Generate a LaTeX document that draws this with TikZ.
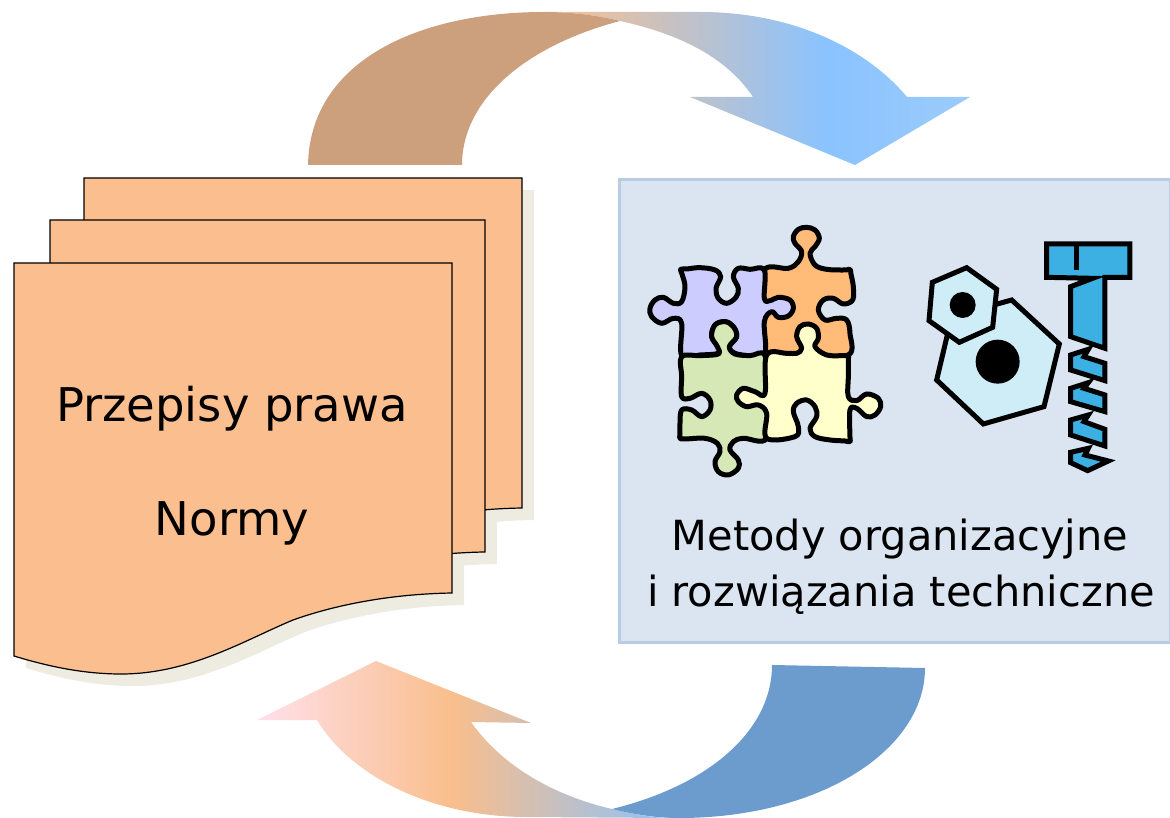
\documentclass[tikz,border=0pt]{standalone}
\usepackage{fontspec}
\setmainfont{DejaVu Sans}
\definecolor{sheetfill}{HTML}{FBBE8E}
\definecolor{sheetshadow}{HTML}{EEECE1}
\definecolor{boxfill}{HTML}{DBE5F1}
\definecolor{boxline}{HTML}{B8CCE4}
\definecolor{brownband}{HTML}{CCA07C}
\definecolor{blueband}{HTML}{6C9BCD}
\definecolor{lilac}{HTML}{CCCCFF}
\definecolor{puzzleorange}{HTML}{FFBB77}
\definecolor{puzzlegreen}{HTML}{D6E8B6}
\definecolor{puzzleyellow}{HTML}{FFFFCC}
\definecolor{nutfill}{HTML}{CFEDF7}
\definecolor{screwfill}{HTML}{3DB0E3}
\definecolor{ora}{HTML}{F9C090}
\definecolor{ora2}{HTML}{F9BE8C}
\definecolor{sky}{HTML}{8AC3FF}
\definecolor{sky2}{HTML}{9CCBFA}
\definecolor{sky3}{HTML}{8FC2F8}
\definecolor{blush}{HTML}{FFE0EA}
\pgfdeclarehorizontalshading{uppershade}{100bp}{color(0bp)=(ora); color(25bp)=(ora); color(58bp)=(sky); color(75bp)=(sky2); color(100bp)=(sky2)}
\pgfdeclarehorizontalshading{lowershade}{100bp}{color(0bp)=(blush); color(25bp)=(blush); color(48.7bp)=(ora2); color(75bp)=(sky3); color(100bp)=(sky3)}
\newcommand{\pageoutline}{(0,0) -- (438,0) -- (438,330)
   .. controls (376,331) and (321,342) .. (279,357)
   .. controls (231,377) and (176,411) .. (107,411)
   .. controls (71,411) and (36,404) .. (0,393) -- cycle}
\tikzset{
    sheet/.style={
           draw=black,
           line width=1.2pt,
           fill=sheetfill,
           },
    piece/.style={
           draw=black,
           line width=5pt,
           line join=round,
           },
    metal/.style={
           draw=black,
           line width=5pt,
           line join=miter,
           },
    zoomed/.style={
           x=0.3333pt,
           y=-0.3333pt,
           },
    bigtext/.style={
           anchor=base,
           inner sep=0pt,
           font=\fontsize{46.5}{50}\selectfont,
           },
    boxtext/.style={
           anchor=base,
           inner sep=0pt,
           font=\fontsize{41.5}{44}\selectfont,
           },
    pics/page/.style={
           code={\draw[sheet] \pageoutline;}
           },
    pics/pageshadow/.style={
           code={\fill[sheetshadow] \pageoutline;}
           },
}
\begin{document}
\begin{tikzpicture}
[
x=1pt,y=-1pt
]
 \useasboundingbox (0,0) rectangle (1170,818);

 % upper arrow
 \shade[shading=uppershade] (544,12) -- (700,12)
   .. controls (795,12) and (868,50) .. (907,97) -- (970,97) -- (855,165)
   -- (690,97) -- (753,97) .. controls (725,55) and (675,33) .. (620,21)
   .. controls (597,15) and (570,12) .. (544,12) -- cycle;
 \fill[brownband] (308,165) .. controls (310,60) and (420,12) .. (544,12)
   .. controls (570,12) and (597,15) .. (620,21)
   .. controls (525,46) and (462,100) .. (462,165) -- cycle;

 % lower arrow
 \shade[shading=lowershade] (317,720) -- (257,720) -- (376,661) -- (531,723)
   -- (471,722) .. controls (505,770) and (560,797) .. (612,809)
   .. controls (632,814) and (655,818) .. (670,818) -- (527,817)
   .. controls (430,817) and (350,775) .. (317,720) -- cycle;
 \fill[blueband] (772,665) -- (925,668)
   .. controls (925,750) and (820,818) .. (679,818)
   .. controls (655,818) and (632,814) .. (612,809)
   .. controls (710,785) and (772,730) .. (772,665) -- cycle;

 % pages, shadows first
 \pic at (96,190) {pageshadow};
 \pic[xscale=.993,yscale=1.006] at (62,232) {pageshadow};
 \pic at (26,275) {pageshadow};
 \pic at (84,178) {page};
 \pic[xscale=.993,yscale=1.006] at (50,220) {page};
 \pic at (14,263) {page};

 \node[bigtext] (PRAWO) at (232,421) {Przepisy prawa};
 \node[bigtext] (NORMY) at (232,535) {Normy};

 % right box
 \fill[boxfill,draw=boxline,line width=3pt] (619.5,179.5) rectangle (1170,642.5);

 \node[boxtext] (METODY) at (900,550) {Metody organizacyjne};
 \node[boxtext] (ROZW) at (901,606) {i rozwiązania techniczne};

 % puzzle
 \begin{scope}[shift={(630,210)},zoomed]
  \draw[piece,fill=puzzleorange] plot[smooth cycle,tension=.6] coordinates {
    (403,180) (475,175) (505,155) (515,125) (495,100) (490,80) (505,58) (530,52) (555,60)
    (568,85) (555,110) (540,130) (555,165) (590,178) (645,180) (660,178) (663,192) (670,230) (668,270) (640,282)
    (610,265) (580,270) (565,300) (585,330) (620,325) (650,330) (660,370) (655,435) (530,436) (405,435) (403,300)};
  \draw[piece,fill=lilac] plot[smooth cycle,tension=.6] coordinates {
    (152,178) (170,177) (210,173) (255,180) (272,200) (258,235) (265,265) (290,280) (318,262) (325,235)
    (310,200) (325,175) (360,178) (403,180) (403,265) (420,272) (445,262) (480,270) (490,295) (475,318)
    (445,322) (425,305) (403,335) (405,430) (360,437) (315,430) (298,410) (320,380) (310,350)
    (285,335) (255,345) (245,380) (265,410) (265,430) (210,435) (155,437) (155,340) (130,325)
    (95,340) (65,320) (60,295) (75,270) (100,262) (130,280) (155,275) (165,230) (156,192)};
  \draw[piece,fill=puzzlegreen] plot[smooth cycle,tension=.6] coordinates {
    (155,440) (210,437) (265,432) (262,410) (245,380) (255,345) (285,335) (310,350) (320,380) (298,410)
    (315,432) (360,437) (405,437) (408,560) (410,685) (340,685) (310,695) (300,720) (325,750) (325,775)
    (295,795) (265,785) (255,755) (270,725) (262,700) (225,685) (165,687) (150,685) (150,672) (150,640) (155,600)
    (185,600) (215,620) (240,600) (240,570) (215,550) (180,565) (155,560) (155,500)};
  \draw[piece,fill=puzzleyellow] plot[smooth cycle,tension=.6] coordinates {
    (410,435) (470,430) (500,430) (515,415) (500,380) (510,350) (535,342) (560,355) (565,385)
    (555,410) (590,435) (640,437) (655,437) (655,450) (655,500) (655,560) (680,572) (710,552) (745,565) (752,590) (735,615)
    (710,620) (680,595) (660,600) (660,680) (660,695) (645,693) (600,690) (555,680) (540,655) (560,620) (555,590)
    (530,570) (500,580) (490,605) (505,650) (495,680) (410,685) (410,610) (385,585) (350,590)
    (325,575) (320,555) (340,535) (375,545) (405,550)};
 \end{scope}

 % nuts and screw
 \begin{scope}[shift={(900,220)},zoomed]
  \draw[metal,fill=nutfill] (335,240) -- (478,372) -- (432,560) -- (250,612) -- (110,480) -- (155,290) -- cycle;
  \fill[black] (293,425) circle (66);
  \draw[metal,fill=nutfill] (200,143) -- (290,208) -- (278,322) -- (178,367) -- (87,302) -- (97,187) -- cycle;
  \fill[black] (188,255) circle (39);
  \draw[metal,fill=screwfill] (440,72) -- (690,72) -- (690,172) -- (615,172) -- (615,385) -- (512,350)
    -- (512,200) -- (578,175) -- (440,172) -- cycle;
  \draw[metal] (530,75) -- (530,150);
  \draw[metal,fill=screwfill] (565,388) -- (512,405) -- (512,450) -- (615,482) -- (615,430) -- (552,410) -- cycle;
  \draw[metal,fill=screwfill] (565,488) -- (512,505) -- (512,545) -- (615,575) -- (615,525) -- (552,505) -- cycle;
  \draw[metal,fill=screwfill] (565,585) -- (512,600) -- (512,645) -- (615,678) -- (615,628) -- (552,605) -- cycle;
  \draw[metal,fill=screwfill] (565,685) -- (512,697) -- (512,728) -- (563,752) -- (625,723) -- (555,705) -- cycle;
 \end{scope}
\end{tikzpicture}
\end{document}
